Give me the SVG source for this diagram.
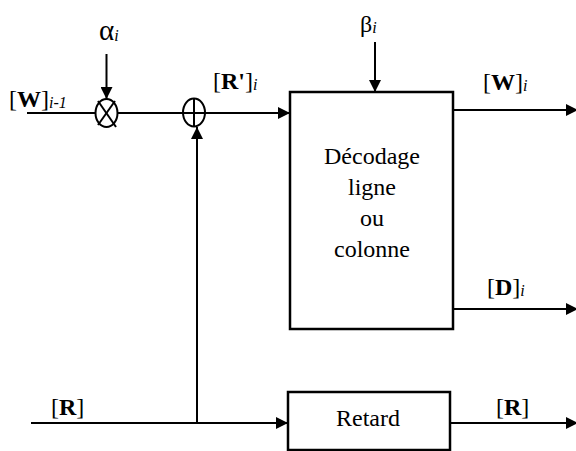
<svg xmlns="http://www.w3.org/2000/svg" width="576" height="451" viewBox="0 0 576 451">
<style>
.ln{stroke:#000;stroke-width:2;fill:none}
.bx{stroke:#000;stroke-width:2.5;fill:#fff}
text{font-family:'Liberation Serif',serif;font-size:24px;fill:#000}
.b{font-weight:bold}
.s{font-style:italic;font-size:16px}
.c{text-anchor:middle}
</style>
<defs>
<marker id="ah" viewBox="0 0 12 12" refX="12" refY="6" markerWidth="12" markerHeight="12" markerUnits="userSpaceOnUse" orient="auto">
<path d="M0,0 L12,6 L0,12 Z" fill="#000"/>
</marker>
</defs>
<g id="connectors">
<line class="ln" x1="27" y1="113" x2="95" y2="113"/>
<line class="ln" x1="106.5" y1="54" x2="106.5" y2="99" marker-end="url(#ah)"/>
<line class="ln" x1="117.5" y1="113" x2="290" y2="113" marker-end="url(#ah)"/>
<line class="ln" x1="375" y1="42" x2="375" y2="92" marker-end="url(#ah)"/>
<line class="ln" x1="453" y1="110" x2="578" y2="110" marker-end="url(#ah)"/>
<line class="ln" x1="453" y1="309" x2="578" y2="309" marker-end="url(#ah)"/>
<line class="ln" x1="31" y1="423" x2="288" y2="423" marker-end="url(#ah)"/>
<line class="ln" x1="197" y1="423" x2="197" y2="127" marker-end="url(#ah)"/>
<line class="ln" x1="450" y1="423" x2="578" y2="423" marker-end="url(#ah)"/>
</g>
<g id="mult">
<ellipse class="ln" cx="106.5" cy="113" rx="11" ry="14"/>
<line class="ln" x1="98" y1="101" x2="116" y2="127"/>
<line class="ln" x1="115" y1="101" x2="98" y2="125"/>
</g>
<g id="sum">
<ellipse class="ln" cx="194" cy="112.5" rx="11" ry="14"/>
<line class="ln" x1="194" y1="98.5" x2="194" y2="126.5"/>
</g>
<g id="decodage">
<rect class="bx" x="290" y="92" width="163" height="237"/>
<text class="c" x="372" y="164">Décodage</text>
<text class="c" x="372" y="195">ligne</text>
<text class="c" x="372" y="226">ou</text>
<text class="c" x="372" y="257">colonne</text>
</g>
<g id="retard">
<rect class="bx" x="288" y="392" width="162" height="58"/>
<text class="c" x="368" y="426">Retard</text>
</g>
<g id="labels">
<text x="9" y="107">[<tspan class="b">W</tspan>]<tspan class="s" dy="1">i-1</tspan></text>
<text x="99" y="40" style="font-size:29px">α<tspan class="s" dy="1">i</tspan></text>
<text x="213" y="89">[<tspan class="b">R'</tspan>]<tspan class="s" dy="1">i</tspan></text>
<text x="360" y="32">β<tspan class="s" dy="1">i</tspan></text>
<text x="483" y="90">[<tspan class="b">W</tspan>]<tspan class="s" dy="1">i</tspan></text>
<text x="487" y="295">[<tspan class="b">D</tspan>]<tspan class="s" dy="1">i</tspan></text>
<text x="51" y="415">[<tspan class="b">R</tspan>]</text>
<text x="496" y="415">[<tspan class="b">R</tspan>]</text>
</g>
</svg>
